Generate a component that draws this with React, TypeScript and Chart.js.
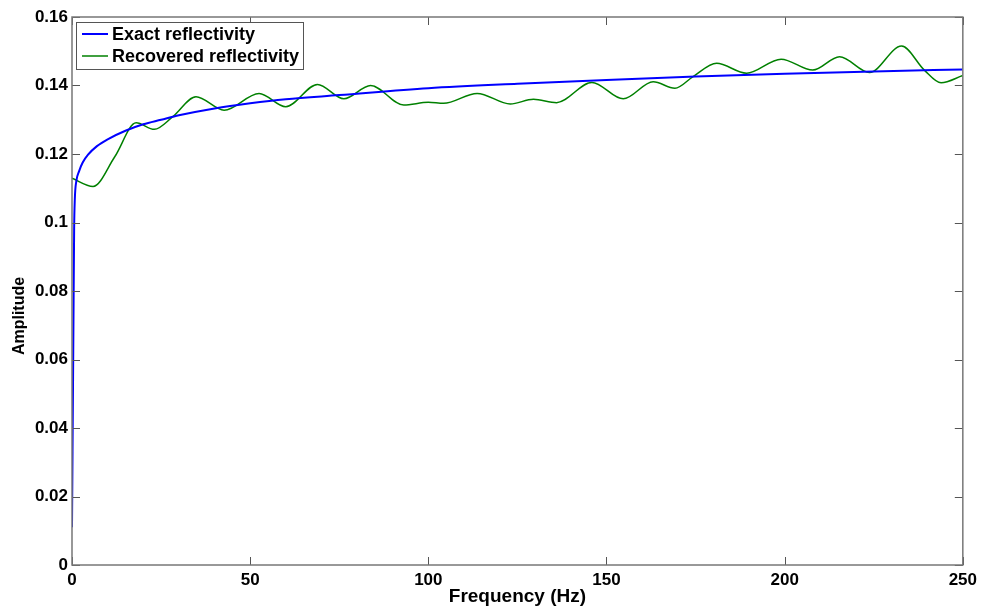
import React, { useEffect, useRef } from "react";
import { Chart, registerables } from "chart.js";

Chart.register(...registerables);

const exactFreq = [0, 0.15, 0.3, 0.45, 0.6, 0.8, 1.2, 2, 3, 4.5, 7, 10, 15, 20, 25, 30, 40, 50, 60, 75, 100, 125, 150, 175, 200, 225, 250];
const exactAmp = [0.011, 0.033, 0.055, 0.077, 0.098, 0.107, 0.112, 0.115, 0.1175, 0.1198, 0.1223, 0.1243, 0.1268, 0.1287, 0.13, 0.1313, 0.1333, 0.1348, 0.136, 0.1372, 0.1392, 0.1405, 0.1416, 0.1426, 0.1434, 0.1441, 0.1447];

const recFreq = [0, 5.9, 12, 18, 23.1, 28.3, 34.8, 42.7, 52.5, 60, 68.9, 76.3, 83.8, 93.1, 100, 104.3, 113.7, 123, 129.5, 136, 145.9, 154.7, 163.1, 169.2, 174.3, 180.9, 189.3, 199, 207.9, 215.4, 223.8, 232.8, 239.2, 243.9, 250];
const recAmp = [0.1129, 0.1105, 0.1192, 0.1291, 0.1272, 0.1309, 0.1367, 0.1328, 0.1377, 0.1338, 0.1403, 0.1361, 0.14, 0.1343, 0.1351, 0.1348, 0.1377, 0.1346, 0.136, 0.135, 0.1409, 0.1361, 0.1411, 0.1392, 0.1426, 0.1465, 0.1436, 0.1477, 0.1445, 0.1484, 0.1438, 0.1515, 0.1445, 0.1408, 0.1429];

const xTicks = [0, 50, 100, 150, 200, 250];
const yTicks = [0, 0.02, 0.04, 0.06, 0.08, 0.1, 0.12, 0.14, 0.16];

const seriesLabels = ["Exact reflectivity", "Recovered reflectivity"];
const seriesColors = ["#0000ff", "#008000"];
const yTitle = "Amplitude";

const FONT = "'Liberation Sans', Arial, Helvetica, sans-serif";

const boxPlugin = {
  id: "matlabBox",
  afterDraw(chart: any) {
    const { ctx, chartArea } = chart;
    const { left, right, top, bottom } = chartArea;
    const xs = chart.scales.x;
    const ys = chart.scales.y;
    ctx.save();
    ctx.strokeStyle = "#555555";
    ctx.lineWidth = 1;
    ctx.beginPath();
    for (const t of xTicks) {
      const px = Math.round(xs.getPixelForValue(t)) + 0.5;
      ctx.moveTo(px, bottom);
      ctx.lineTo(px, bottom - 8);
      ctx.moveTo(px, top);
      ctx.lineTo(px, top + 8);
    }
    for (const t of yTicks) {
      const py = Math.round(ys.getPixelForValue(t)) + 0.5;
      ctx.moveTo(left, py);
      ctx.lineTo(left + 8, py);
      ctx.moveTo(right, py);
      ctx.lineTo(right - 8, py);
    }
    ctx.stroke();
    ctx.strokeStyle = "#777777";
    ctx.lineWidth = 1.5;
    ctx.strokeRect(left, top, right - left, bottom - top);

    // y axis title
    ctx.save();
    ctx.translate(20, 316);
    ctx.rotate(-Math.PI / 2);
    ctx.font = `bold 16px ${FONT}`;
    ctx.fillStyle = "#000";
    ctx.textAlign = "center";
    ctx.textBaseline = "middle";
    ctx.fillText(yTitle, 0, 0);
    ctx.restore();

    // legend
    const lx = left + 4;
    const ly = top + 5;
    const lw = 227;
    const lh = 47;
    ctx.fillStyle = "#ffffff";
    ctx.fillRect(lx, ly, lw, lh);
    ctx.strokeStyle = "#555555";
    ctx.lineWidth = 1;
    ctx.strokeRect(lx + 0.5, ly + 0.5, lw, lh);
    ctx.font = `bold 18px ${FONT}`;
    ctx.textBaseline = "middle";
    ctx.textAlign = "left";
    seriesLabels.forEach((lab, i) => {
      const yy = ly + 12 + i * 22;
      ctx.strokeStyle = seriesColors[i];
      ctx.lineWidth = i === 0 ? 2 : 1.5;
      ctx.beginPath();
      ctx.moveTo(lx + 6, yy);
      ctx.lineTo(lx + 32, yy);
      ctx.stroke();
      ctx.fillStyle = "#000000";
      ctx.fillText(lab, lx + 36, yy + 1);
    });
    ctx.restore();
  },
};

export default function App() {
  const ref = useRef<HTMLCanvasElement | null>(null);
  useEffect(() => {
    document.body.style.margin = "0";
    const canvas = ref.current;
    if (!canvas) return;
    const chart = new Chart(canvas, {
      type: "line",
      data: {
        datasets: [
          {
            label: seriesLabels[0],
            data: exactFreq.map((f, i) => ({ x: f, y: exactAmp[i] })),
            borderColor: seriesColors[0],
            borderWidth: 2,
            pointRadius: 0,
            cubicInterpolationMode: "monotone",
          },
          {
            label: seriesLabels[1],
            data: recFreq.map((f, i) => ({ x: f, y: recAmp[i] })),
            borderColor: seriesColors[1],
            borderWidth: 1.5,
            pointRadius: 0,
            cubicInterpolationMode: "monotone",
          },
        ],
      },
      options: {
        animation: false,
        responsive: false,
        maintainAspectRatio: false,
        layout: { padding: { top: 17, right: 17, left: 0, bottom: 0 } },
        plugins: { legend: { display: false }, tooltip: { enabled: false } },
        scales: {
          x: {
            type: "linear",
            min: 0,
            max: 250,
            afterFit: (s: any) => {
              s.height = 42;
            },
            afterBuildTicks: (s: any) => {
              s.ticks = xTicks.map((v) => ({ value: v }));
            },
            grid: { display: false, drawTicks: false },
            border: { display: false },
            ticks: {
              color: "#000",
              padding: 5,
              maxRotation: 0,
              font: { family: FONT, size: 17, weight: "bold" },
              callback: (v: any) => String(v),
            },
            title: {
              display: true,
              text: "Frequency (Hz)",
              color: "#000",
              font: { family: FONT, size: 19, weight: "bold" },
              padding: { top: 0, bottom: -1 },
            },
          },
          y: {
            type: "linear",
            min: 0,
            max: 0.16,
            afterFit: (s: any) => {
              s.width = 72;
            },
            afterBuildTicks: (s: any) => {
              s.ticks = yTicks.map((v) => ({ value: v }));
            },
            grid: { display: false, drawTicks: false },
            border: { display: false },
            ticks: {
              color: "#000",
              padding: 4,
              font: { family: FONT, size: 17, weight: "bold" },
              callback: (v: any) => String(Number(Number(v).toFixed(2))),
            },
            title: { display: false },
          },
        },
      },
      plugins: [boxPlugin],
    } as any);
    return () => chart.destroy();
  }, []);
  return (
    <div style={{ position: "fixed", left: 0, top: 0, width: 982, height: 607, background: "#fff" }}>
      <canvas ref={ref} width={982} height={607} style={{ width: 982, height: 607, display: "block" }} />
    </div>
  );
}
